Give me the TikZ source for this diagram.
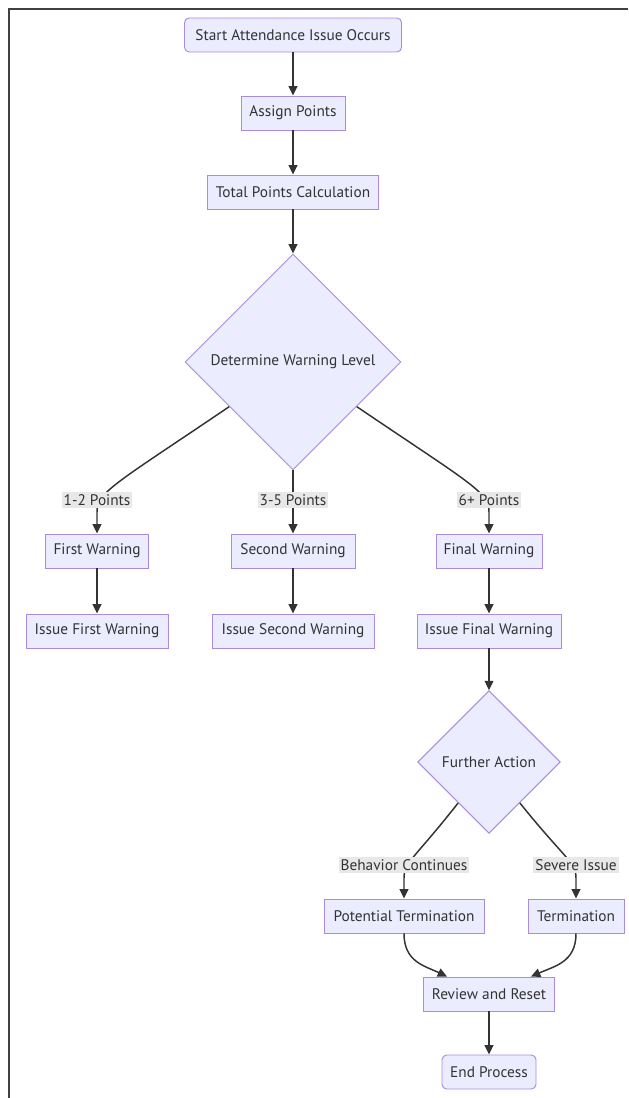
\documentclass[tikz,border=0pt]{standalone}
\usepackage{fontspec}
\setmainfont{PT Sans}
\usetikzlibrary{shapes.geometric,arrows.meta,calc}
\definecolor{nfill}{HTML}{ECECFF}
\definecolor{nstroke}{HTML}{A98BE0}
\definecolor{ink}{HTML}{333333}
\definecolor{lblbg}{HTML}{E8E8E8}
\begin{document}
\begin{tikzpicture}[x=0.75pt,y=-0.75pt,
  txt/.style={text=ink, font=\fontsize{11.5}{13}\selectfont},
  box/.style={txt, draw=nstroke, fill=nfill, line width=0.7pt, minimum height=25.5pt, inner xsep=3pt},
  rbox/.style={box, rounded corners=3.5pt},
  dec/.style={txt, diamond, draw=nstroke, fill=nfill, line width=0.7pt, aspect=1, inner sep=0pt},
  lbl/.style={txt, fill=lblbg, inner xsep=1.5pt, inner ysep=2pt},
  ln/.style={draw=ink, line width=1.1pt},
  arr/.style={ln, -{Triangle[length=7pt,width=6.5pt]}}]

\useasboundingbox (0,0) rectangle (628,1098);
\fill[white] (0,0) rectangle (628,1098);
\draw[line width=1.2pt, draw=black!75] (9,1098) -- (9,9) -- (628,9);

% nodes
\node[rbox, minimum width=162.75pt] (start) at (293,35) {Start Attendance Issue Occurs};
\node[box, minimum width=78pt] (assign) at (293,113) {Assign Points};
\node[box, minimum width=128.25pt] (total) at (293,192) {Total Points Calculation};
\node[dec, minimum width=162pt, minimum height=162pt] (det) at (293,362) {Determine Warning Level};

\node[box, minimum width=77.25pt] (w1) at (97,551) {First Warning};
\node[box, minimum width=93pt] (w2) at (293,551) {Second Warning};
\node[box, minimum width=79.5pt] (w3) at (489,551) {Final Warning};

\node[box, minimum width=106.5pt] (i1) at (97,631) {Issue First Warning};
\node[box, minimum width=121.5pt] (i2) at (293,631) {Issue Second Warning};
\node[box, minimum width=108pt] (i3) at (489,631) {Issue Final Warning};

\node[dec, minimum width=107pt, minimum height=107pt] (fa) at (489,762) {Further Action};

\node[box, minimum width=120pt] (pt) at (404,916) {Potential Termination};
\node[box, minimum width=72pt] (tm) at (576,916) {Termination};
\node[box, minimum width=98.25pt] (rr) at (489,994) {Review and Reset};
\node[rbox, minimum width=70.5pt] (end) at (489,1072) {End Process};

% connectors
\draw[arr] (start) -- (assign);
\draw[arr] (assign) -- (total);
\draw[arr] (total) -- (det.north);

\draw[arr] (det.-145) .. controls (115,484) and (97,492) .. (97,512) -- (w1.north);
\draw[arr] (det.south) -- (w2.north);
\draw[arr] (det.-35) .. controls (471,484) and (489,492) .. (489,512) -- (w3.north);

\draw[arr] (w1) -- (i1);
\draw[arr] (w2) -- (i2);
\draw[arr] (w3) -- (i3);
\draw[arr] (i3) -- (fa.north);

\draw[arr] (fa.-127) .. controls (415,858) and (404,862) .. (404,878) -- (pt.north);
\draw[arr] (fa.-53) .. controls (564,858) and (576,862) .. (576,878) -- (tm.north);

\draw[arr] (pt.south) .. controls (404,962) and (425,966) .. ($(rr.north)+(-42,0)$);
\draw[arr] (tm.south) .. controls (576,962) and (555,966) .. ($(rr.north)+(42,0)$);
\draw[arr] (rr) -- (end);

% edge labels
\node[lbl] (l1) at (97,500) {1-2 Points};
\node[lbl] (l2) at (293,500) {3-5 Points};
\node[lbl] (l3) at (489,500) {6+ Points};
\node[lbl] (l4) at (404,865) {Behavior Continues};
\node[lbl] (l5) at (576,865) {Severe Issue};
\end{tikzpicture}
\end{document}
